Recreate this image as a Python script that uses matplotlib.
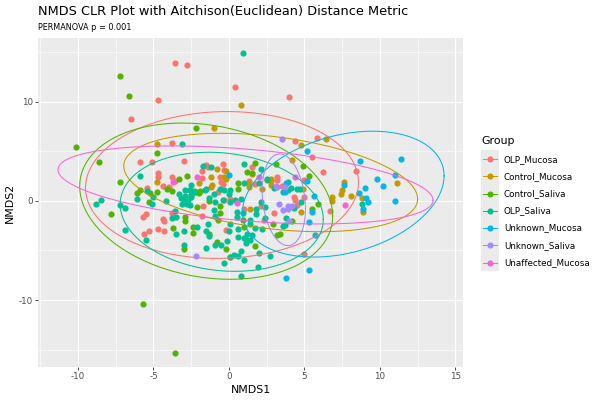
import numpy as np
import matplotlib
matplotlib.use("Agg")
import matplotlib.pyplot as plt
from matplotlib.lines import Line2D
from matplotlib.patches import Rectangle

plt.rcParams['font.family'] = ['DejaVu Sans']
plt.rcParams['axes.unicode_minus'] = False

groups = ["OLP_Mucosa", "Control_Mucosa", "Control_Saliva", "OLP_Saliva",
          "Unknown_Mucosa", "Unknown_Saliva", "Unaffected_Mucosa"]
colors = ["#F8766D", "#C49A00", "#53B400", "#00C094", "#00B6EB", "#A58AFF", "#FB61D7"]

olp_mucosa = [(-3.6,13.9),(-2.8,13.7),(-4.7,10.2),(-6.5,8.2),(0.4,11.5),(4.0,10.5),(-3.8,5.8),
    (-5.9,3.9),(-5.1,3.9),(-3.0,4.0),(-4.7,2.8),(-4.7,2.4),(-3.8,2.4),(-3.6,2.0),(-4.4,1.5),
    (-4.0,1.4),(-1.8,2.3),(-0.6,2.4),(-1.4,3.4),(-0.4,3.7),(-1.8,3.0),(-1.5,3.6),(-0.3,3.1),
    (-0.5,1.9),(-0.7,0.9),(-5.4,1.3),(-1.7,-0.5),(-5.5,-1.3),(-5.7,-1.6),(-4.4,-1.8),(-4.3,-2.0),
    (-3.8,-1.2),(-1.8,-1.5),(-5.6,-3.3),(-5.3,-3.0),(-4.7,-2.8),(-4.3,-3.0),(-0.2,-2.9),(-0.3,0.1),
    (0.1,0.2),(1.0,-0.8),(2.3,-1.9),(2.1,-0.5),(3.0,-1.2),(4.3,0.4),(4.4,0.1),(5.0,0.4),(4.5,-0.4),
    (3.5,1.5),(3.2,2.4),(2.8,2.0),(3.2,2.1),(1.5,3.4),(1.7,1.7),(4.4,6.0),(5.8,6.3),(5.5,4.4),
    (8.4,3.0),(6.2,2.9),(5.0,2.1),(6.7,-1.0),(5.0,-5.4),(1.3,2.0),(-0.4,1.7)]

control_mucosa = [(0.8,9.6),(-1.0,7.3),(-4.8,5.7),(-4.8,1.9),(-0.8,3.2),(-0.2,3.0),(-2.0,1.8),
    (-1.2,2.4),(-1.1,1.6),(-0.2,2.2),(-1.2,1.4),(-0.3,2.4),(1.5,2.7),(1.3,1.8),(1.3,1.4),(2.2,1.2),
    (2.8,2.2),(2.8,1.6),(4.2,4.1),(4.8,5.6),(6.4,6.2),(4.9,1.2),(4.8,-1.1),(1.4,-0.8),(0.1,-5.7),
    (7.6,1.9),(7.5,1.1),(7.4,0.7),(8.1,0.5),(6.8,0.4),(6.8,0.0),(8.8,0.3),(8.9,-1.1),(11.1,1.8)]

control_saliva = [(-7.2,12.6),(-6.6,10.6),(-2.2,7.3),(-10.1,5.4),(-8.6,3.9),(-4.8,4.8),(-7.2,1.9),
    (-5.9,1.1),(-2.8,2.5),(-3.3,2.2),(-2.2,0.9),(-1.9,1.0),(-6.1,0.8),(-5.2,0.8),(-4.8,0.9),
    (-5.3,-0.1),(-4.1,1.2),(-3.8,1.0),(-2.1,-0.6),(-1.3,0.0),(-0.6,-0.5),(-0.6,-1.2),(-0.7,-1.9),
    (-2.9,-1.6),(-2.9,-2.0),(-3.7,-2.7),(-2.4,-2.6),(-2.4,-3.2),(-1.3,-3.3),(-3.0,-4.9),(-0.2,-4.9),
    (-0.8,-4.2),(-7.8,-1.3),(-5.7,-10.4),(-3.6,-15.3),(1.7,3.8),(3.1,3.7),(4.9,3.5),(1.2,2.9),
    (1.5,2.8),(0.6,1.8),(0.6,1.2),(2.5,2.1),(5.3,2.5),(5.9,-0.3),(5.5,-0.8),(4.2,-2.0),(3.2,-3.5),
    (3.4,-3.3),(0.9,-1.9),(1.7,-4.6),(1.0,-2.6),(2.9,-2.3),(-2.3,1.0),(-2.0,0.8)]

olp_saliva = [(0.9,14.9),(-3.1,5.7),(-5.9,2.5),(1.0,3.7),(2.1,3.2),(-1.7,3.5),(-1.2,3.4),(-2.9,1.1),
    (-1.5,1.2),(-0.6,1.2),(-1.0,0.7),(0.0,0.7),(-6.1,0.2),(-5.0,0.4),(-5.1,-0.3),(-4.2,0.0),
    (-3.3,0.7),(-3.0,0.2),(-2.7,0.1),(-2.8,-0.3),(-3.1,-0.3),(-2.5,0.4),(-1.3,0.3),(-0.9,-0.1),
    (-0.4,0.1),(0.1,-0.1),(-1.0,-0.9),(-0.9,-1.5),(-3.6,-1.0),(-3.5,-1.6),(-2.1,-2.6),(-3.5,-3.3),
    (-3.0,-3.0),(-5.5,-4.0),(-3.0,-4.5),(-1.5,-4.8),(-0.9,-4.5),(-0.5,-4.5),(-0.1,-4.1),(-1.5,-3.0),
    (0.1,-2.3),(-8.5,0.1),(-8.8,-0.3),(-7.2,-0.4),(-6.9,-0.7),(-6.9,-2.9),(-5.4,1.0),(-3.8,-1.7),
    (-1.3,-3.6),(-1.4,-2.3),(-0.3,-6.3),(1.0,-6.0),(0.8,-5.1),(1.1,-4.3),(2.7,-5.6),(1.5,-3.5),
    (1.2,-4.0),(0.6,-3.7),(0.0,-3.0),(0.6,-2.8),(2.2,-2.8),(2.4,-0.6),(1.8,-0.8),(1.8,-1.3),
    (0.9,-1.2),(0.4,0.1),(0.8,0.2),(0.5,-1.1),(0.5,-1.6),(1.4,-1.9),(1.4,-2.3),(2.4,-1.7),
    (3.6,-2.5),(1.7,-2.7),(1.2,-3.3),(1.0,-3.8),(1.4,-4.0),(0.3,-5.5),(0.8,-7.6),(1.9,-6.7),
    (2.0,-5.3),(0.6,-5.6),(0.1,-5.7),(8.8,-0.3),(2.5,2.2),(2.0,1.8),(3.6,0.9),(3.9,1.1),(3.9,1.9),
    (4.1,1.3),(4.5,1.2),(4.8,-0.1),(4.7,1.2),(3.8,-1.7),(3.7,-2.4),(4.3,-0.7),(2.1,-0.1),(3.0,1.3),
    (-2.5,1.6),(-2.6,1.1),(-2.3,0.9),(-2.5,0.6),(-1.6,1.1),(-0.3,1.1),(0.1,1.1),(1.0,1.8),
    (-2.9,0.5),(-3.2,0.3),(-2.6,-0.4)]

unknown_mucosa = [(5.2,5.0),(8.7,4.0),(11.4,4.2),(9.8,2.2),(11.0,2.6),(10.2,1.5),(9.0,1.3),(7.6,1.6),
    (9.1,0.3),(9.2,-0.1),(8.9,-0.8),(8.6,0.8),(11.0,0.0),(5.2,2.0),(3.8,1.8),(3.7,0.9),(0.0,2.6),
    (5.3,-7.0),(3.8,-7.8),(5.3,-2.1),(5.7,-3.4),(5.5,-1.1),(5.6,0.5)]

unknown_saliva = [(3.5,6.2),(3.1,1.5),(3.2,1.4),(3.3,-0.3),(3.6,-0.9),(3.9,-0.5),(4.2,-0.5),
    (4.0,-2.0),(3.7,1.4),(3.9,-0.8),(-2.2,-5.6)]

unaffected_mucosa = [(-3.7,1.9),(-2.1,2.4),(0.5,-0.2),(2.0,2.4),(4.4,2.4),(7.7,-0.4)]

data = [olp_mucosa, control_mucosa, control_saliva, olp_saliva,
        unknown_mucosa, unknown_saliva, unaffected_mucosa]

title = "NMDS CLR Plot with Aitchison(Euclidean) Distance Metric"
subtitle = "PERMANOVA p = 0.001"
x_ticks = [-10, -5, 0, 5, 10, 15]
y_ticks = [-10, 0, 10]


def cov_trob(X, nu=5, maxit=25, tol=0.01):
    n, p = X.shape
    loc = X.mean(0)
    w = np.ones(n)
    D = X - loc
    for _ in range(maxit):
        w0 = w
        D = X - loc
        S = (D * w[:, None]).T @ D / w.sum()
        Q = np.einsum('ij,jk,ik->i', D, np.linalg.inv(S), D)
        w = (nu + p) / (nu + Q)
        loc = (w[:, None] * X).sum(0) / w.sum()
        if np.all(np.abs(w - w0) < tol):
            break
    cov = (D * w[:, None]).T @ D / n
    return loc, cov


def ellipse_path(pts, level=0.95, segments=101):
    X = np.asarray(pts, float)
    loc, cov = cov_trob(X)
    dfd = len(X) - 1
    qf = dfd / 2.0 * ((1 - level) ** (-2.0 / dfd) - 1)
    r = np.sqrt(2 * qf)
    th = np.linspace(0, 2 * np.pi, segments)
    circ = np.column_stack([np.cos(th), np.sin(th)])
    L = np.linalg.cholesky(cov)
    return loc + r * circ @ L.T


W, H = 600, 400
fig = plt.figure(figsize=(6, 4), dpi=100)
ax = fig.add_axes([38 / W, 1 - 367 / H, (463 - 38) / W, (367 - 38) / H])
ax.set_facecolor("#EBEBEB")
for s in ax.spines.values():
    s.set_visible(False)

ax.set_xlim(-12.65, 15.5)
ax.set_ylim(-16.75, 16.4)
ax.set_xticks(x_ticks)
ax.set_yticks(y_ticks)
ax.set_xticks([-12.5, -7.5, -2.5, 2.5, 7.5, 12.5], minor=True)
ax.set_yticks([-15, -5, 5, 15], minor=True)
ax.grid(True, which='major', color='white', lw=0.8)
ax.grid(True, which='minor', color='white', lw=0.4)
ax.set_axisbelow(True)
ax.tick_params(which='major', length=2.2, width=0.6, color='#333333',
               labelsize=6.3, labelcolor='#4D4D4D', pad=1.5)
ax.tick_params(which='minor', length=0)

for pts, c in zip(data, colors):
    arr = np.asarray(pts)
    ax.scatter(arr[:, 0], arr[:, 1], s=20, color=c, linewidths=0, zorder=3)
for pts, c in zip(data, colors):
    e = ellipse_path(pts)
    ax.plot(e[:, 0], e[:, 1], color=c, lw=0.75, zorder=4)

ax.set_xlabel("NMDS1", fontsize=7.9, labelpad=3)
ax.set_ylabel("NMDS2", fontsize=7.9, labelpad=3)

fig.text(38 / W, 1 - 12 / H, title, fontsize=9.3, va='center', ha='left')
fig.text(38 / W, 1 - 28 / H, subtitle, fontsize=5.9, va='center', ha='left')

# legend
fig.text(481 / W, 1 - 141 / H, "Group", fontsize=7.9, va='center', ha='left')
fig.patches.append(Rectangle((481 / W, 1 - 271 / H), 18 / W, 121 / H,
                             transform=fig.transFigure, facecolor='#EBEBEB',
                             edgecolor='none', zorder=0))
for i, (g, c) in enumerate(zip(groups, colors)):
    yc = 1 - (159.3 + i * 17.2) / H
    fig.lines.append(Line2D([483 / W, 497 / W], [yc, yc], transform=fig.transFigure,
                            color=c, lw=0.75))
    fig.lines.append(Line2D([490 / W], [yc], transform=fig.transFigure, color=c,
                            marker='o', markersize=4.4, markeredgewidth=0, lw=0))
    fig.text(504 / W, yc, g, fontsize=6.3, va='center', ha='left')

fig.savefig("out.png", dpi=100)
